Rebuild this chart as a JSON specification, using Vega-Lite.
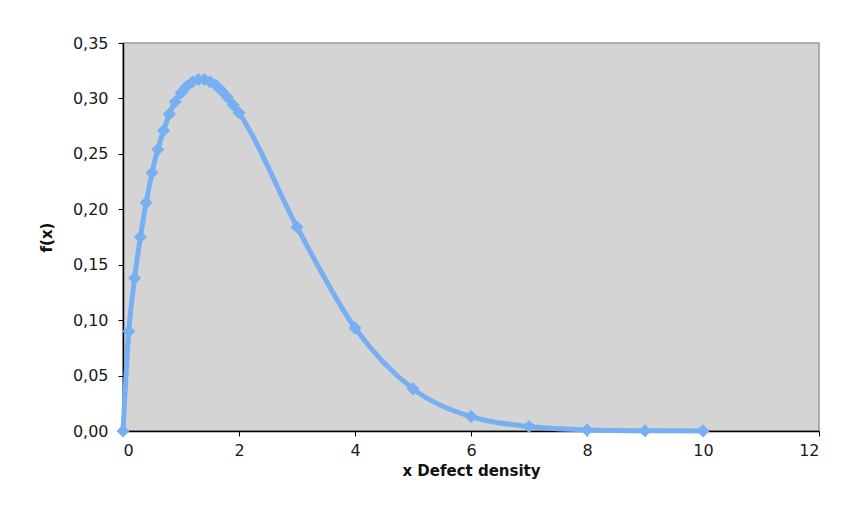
{
  "$schema": "https://vega.github.io/schema/vega-lite/v6.json",
  "width": 696,
  "height": 388,
  "autosize": {"type": "none"},
  "padding": {"left": 123, "top": 43, "right": 23, "bottom": 87},
  "background": "white",
  "config": {
    "view": {"fill": "#d4d4d4", "stroke": "#9a9a9a", "strokeWidth": 1.5},
    "font": "DejaVu Sans",
    "axis": {
      "grid": false,
      "domainColor": "#000000",
      "domainWidth": 1.5,
      "tickColor": "#000000",
      "tickSize": 5,
      "labelFont": "DejaVu Sans",
      "labelFontSize": 16,
      "labelColor": "#1a1a1a",
      "titleFont": "DejaVu Sans",
      "titleFontSize": 15,
      "titleFontWeight": "bold",
      "titleColor": "#111111"
    }
  },
  "data": {
    "values": [
      {"x": 0, "f": 0},
      {"x": 0.1, "f": 0.090},
      {"x": 0.2, "f": 0.138},
      {"x": 0.3, "f": 0.175},
      {"x": 0.4, "f": 0.206},
      {"x": 0.5, "f": 0.233},
      {"x": 0.6, "f": 0.254},
      {"x": 0.7, "f": 0.271},
      {"x": 0.8, "f": 0.286},
      {"x": 0.9, "f": 0.297},
      {"x": 1.0, "f": 0.305},
      {"x": 1.1, "f": 0.311},
      {"x": 1.2, "f": 0.315},
      {"x": 1.3, "f": 0.317},
      {"x": 1.4, "f": 0.317},
      {"x": 1.5, "f": 0.315},
      {"x": 1.6, "f": 0.312},
      {"x": 1.7, "f": 0.307},
      {"x": 1.8, "f": 0.301},
      {"x": 1.9, "f": 0.294},
      {"x": 2.0, "f": 0.287},
      {"x": 3, "f": 0.184},
      {"x": 4, "f": 0.093},
      {"x": 5, "f": 0.038},
      {"x": 6, "f": 0.013},
      {"x": 7, "f": 0.004},
      {"x": 8, "f": 0.001},
      {"x": 9, "f": 0.0003},
      {"x": 10, "f": 0.0001}
    ]
  },
  "encoding": {
    "x": {
      "field": "x",
      "type": "quantitative",
      "scale": {"domain": [0, 12], "nice": false, "zero": true},
      "axis": {
        "title": "x Defect density",
        "values": [0, 2, 4, 6, 8, 10, 12],
        "labelPadding": 6,
        "titlePadding": 5
      }
    },
    "y": {
      "field": "f",
      "type": "quantitative",
      "scale": {"domain": [0, 0.35], "nice": false},
      "axis": {
        "title": "f(x)",
        "values": [0, 0.05, 0.1, 0.15, 0.2, 0.25, 0.3, 0.35],
        "labelExpr": "replace(format(datum.value, '.2f'), '.', ',')",
        "labelPadding": 10,
        "titlePadding": 18
      }
    }
  },
  "layer": [
    {
      "mark": {"type": "line", "color": "#76aff2", "strokeWidth": 5, "interpolate": "monotone"}
    },
    {
      "mark": {"type": "point", "shape": "diamond", "filled": true, "color": "#76aff2", "opacity": 1, "size": 170}
    }
  ]
}
